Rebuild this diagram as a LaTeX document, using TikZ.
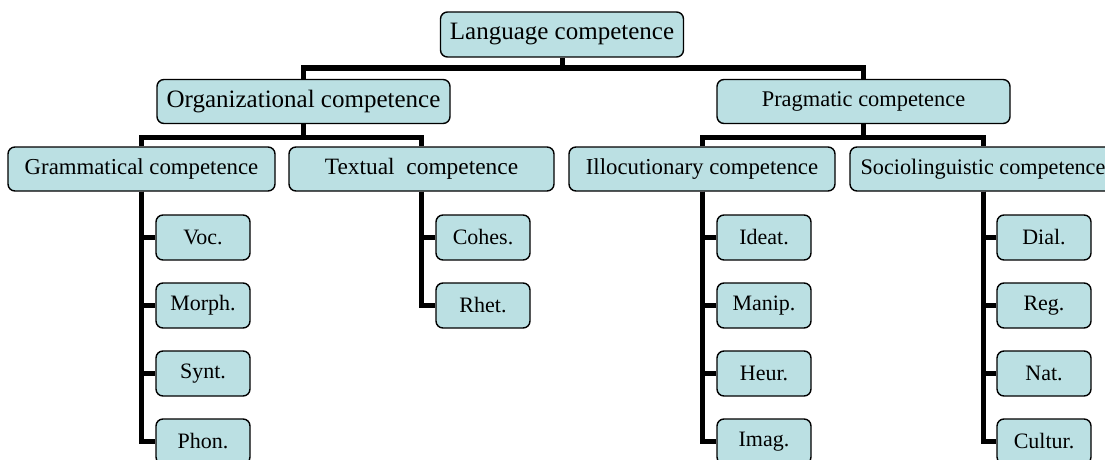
\documentclass[tikz,border=0pt]{standalone}
\usepackage{fontspec}
\setmainfont{Liberation Serif}
\begin{document}
\begin{tikzpicture}[x=1pt,y=-1pt,
  box/.style={draw=black, line width=1.4pt, rounded corners=7pt, fill={rgb,255:red,187;green,224;blue,227},
    inner sep=0pt, anchor=center, text=black},
  big/.style={box, font=\fontsize{25}{30}\selectfont},
  mid/.style={box, font=\fontsize{22.8}{28}\selectfont, minimum height=44pt},
  leaf/.style={box, font=\fontsize{22}{26}\selectfont, minimum width=94pt, minimum height=45pt},
  conn/.style={draw=black, line width=5pt, line join=miter}]
\useasboundingbox (0,0) rectangle (1105,460);
\clip (0,0) rectangle (1105,460);
% top
\node[big, minimum width=243pt, minimum height=45pt] (lang) at (562,34.5) {Language competence};
\node[big, minimum width=293pt, minimum height=44pt] (org) at (303.5,101.5) {Organizational competence};
\node[mid, minimum width=293pt, font=\fontsize{22.4}{28}\selectfont] (prag) at (863.5,101.5) {Pragmatic competence};
% level 2
\node[mid, minimum width=267pt] (gram) at (141.5,169) {Grammatical competence};
\node[mid, minimum width=265pt, font=\fontsize{23.4}{28}\selectfont] (text) at (421.5,169) {Textual\ \ competence};
\node[mid, minimum width=266pt] (illo) at (702,169) {Illocutionary competence};
\node[mid, minimum width=266pt, font=\fontsize{22.2}{28}\selectfont] (soci) at (983,169) {Sociolinguistic competence};
% leaves
\node[leaf] (voc) at (203,237.5) {Voc.};
\node[leaf] (morph) at (203,305.5) {Morph.};
\node[leaf] (synt) at (203,373.5) {Synt.};
\node[leaf] (phon) at (203,441.5) {Phon.};
\node[leaf] (cohes) at (483,237.5) {Cohes.};
\node[leaf] (rhet) at (483,305.5) {Rhet.};
\node[leaf] (ideat) at (764,237.5) {Ideat.};
\node[leaf] (manip) at (764,305.5) {Manip.};
\node[leaf] (heur) at (764,373.5) {Heur.};
\node[leaf] (imag) at (764,441.5) {Imag.};
\node[leaf] (dial) at (1044,237.5) {Dial.};
\node[leaf] (reg) at (1044,305.5) {Reg.};
\node[leaf] (nat) at (1044,373.5) {Nat.};
\node[leaf] (cult) at (1044,441.5) {Cultur.};
% bars
\coordinate (b1) at (562,68);
\coordinate (b2) at (303.5,137);
\coordinate (b3) at (863.5,137);
\draw[conn] (lang.south) -- (b1);
\draw[conn] (org.north) |- (b1) -| (prag.north);
\draw[conn] (org.south) -- (b2);
\draw[conn] (gram.north) |- (b2) -| (text.north);
\draw[conn] (prag.south) -- (b3);
\draw[conn] (illo.north) |- (b3) -| (soci.north);
% leaf connectors
\foreach \p/\c in {gram/voc,gram/morph,gram/synt,gram/phon,text/cohes,text/rhet,illo/ideat,illo/manip,illo/heur,illo/imag,soci/dial,soci/reg,soci/nat,soci/cult}
  \draw[conn] (\p.south) |- (\c.west);
\end{tikzpicture}
\end{document}
